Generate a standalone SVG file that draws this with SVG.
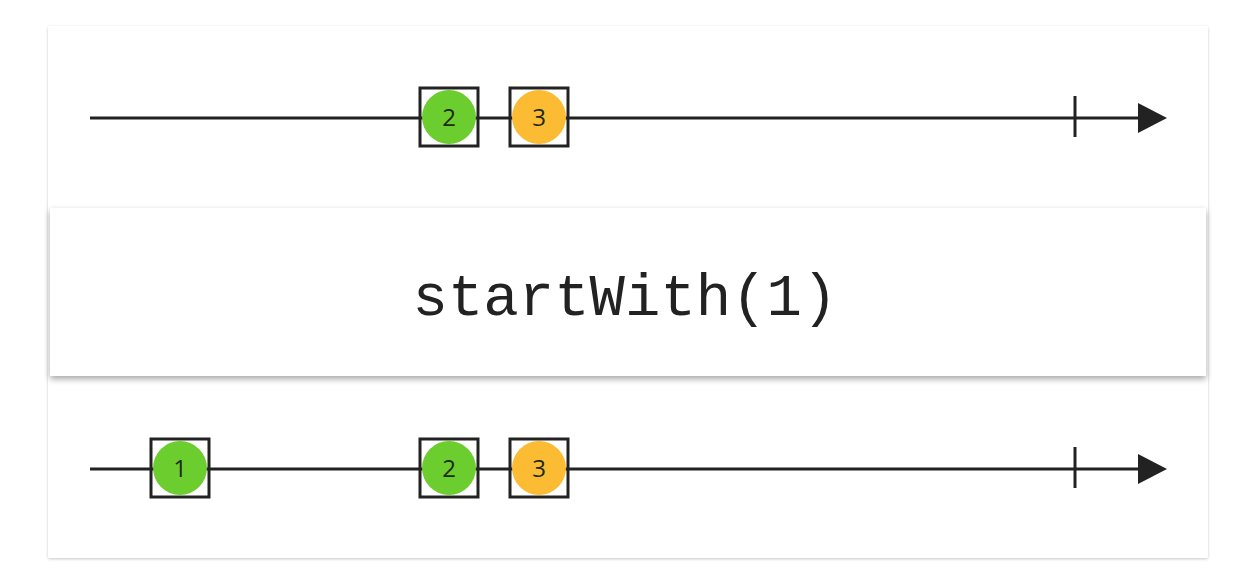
<svg xmlns="http://www.w3.org/2000/svg" width="1240" height="579" viewBox="0 0 1240 579">
<defs>
<filter id="cardShadow" x="-5%" y="-5%" width="110%" height="110%">
<feDropShadow dx="0" dy="1" stdDeviation="1.5" flood-color="#000" flood-opacity="0.22"/>
</filter>
<filter id="opShadow" x="-5%" y="-20%" width="110%" height="140%">
<feDropShadow dx="0" dy="3" stdDeviation="3" flood-color="#000" flood-opacity="0.35"/>
</filter>
<marker id="arrow" markerWidth="30" markerHeight="30" refX="0" refY="15" orient="auto" markerUnits="userSpaceOnUse">
<path d="M0,0 L29,15 L0,30 Z" fill="#222"/>
</marker>
</defs>
<style>
.line{stroke:#222;stroke-width:3;fill:none}
.box{fill:none;stroke:#222;stroke-width:3}
.green{fill:#6ccd2e}
.orange{fill:#fbbc33}
.num{font-family:"Open Sans","Liberation Sans",sans-serif;font-size:24px;fill:#1e2a10;text-anchor:middle}
.op{font-family:"Liberation Mono","Courier New",monospace;font-size:59px;fill:#222;text-anchor:middle}
</style>
<rect x="48" y="26" width="1160" height="532" rx="2" fill="#fff" filter="url(#cardShadow)"/>
<g id="connectors">
<line class="line" x1="90" y1="118" x2="1138" y2="118" marker-end="url(#arrow)"/>
<line class="line" x1="1075" y1="96" x2="1075" y2="137"/>
<line class="line" x1="90" y1="469" x2="1138" y2="469" marker-end="url(#arrow)"/>
<line class="line" x1="1075" y1="447" x2="1075" y2="488"/>
</g>
<g id="in-2">
<circle class="green" cx="449" cy="117" r="27"/>
<rect class="box" x="420" y="88" width="58" height="58"/>
<text class="num" x="449" y="126">2</text>
</g>
<g id="in-3">
<circle class="orange" cx="539" cy="117" r="27"/>
<rect class="box" x="510" y="88" width="58" height="58"/>
<text class="num" x="539" y="126">3</text>
</g>
<g id="operator">
<rect x="50" y="208" width="1156" height="168" fill="#fff" filter="url(#opShadow)"/>
<text class="op" x="625" y="315">startWith(1)</text>
</g>
<g id="out-1">
<circle class="green" cx="180" cy="468" r="27"/>
<rect class="box" x="151" y="439" width="58" height="58"/>
<text class="num" x="180" y="477">1</text>
</g>
<g id="out-2">
<circle class="green" cx="449" cy="468" r="27"/>
<rect class="box" x="420" y="439" width="58" height="58"/>
<text class="num" x="449" y="477">2</text>
</g>
<g id="out-3">
<circle class="orange" cx="539" cy="468" r="27"/>
<rect class="box" x="510" y="439" width="58" height="58"/>
<text class="num" x="539" y="477">3</text>
</g>
</svg>
